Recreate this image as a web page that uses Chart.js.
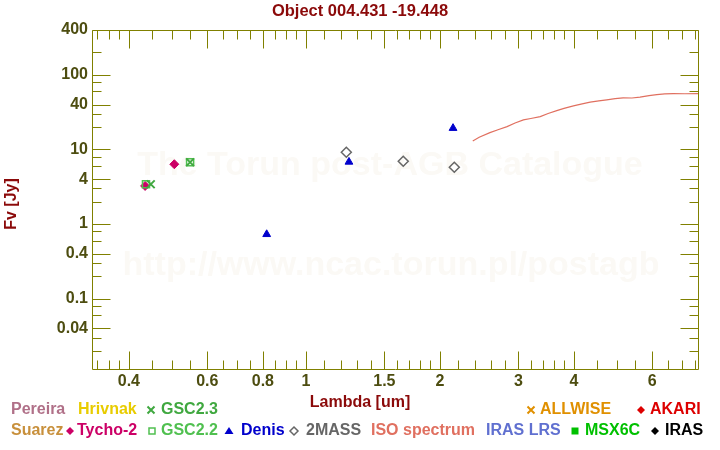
<!DOCTYPE html>
<html>
<head>
<meta charset="utf-8">
<script src="https://cdn.jsdelivr.net/npm/chart.js@4/dist/chart.umd.min.js"></script>
<style>
  body { margin: 0; background: #fff; }
  #wrap { width: 720px; height: 450px; }
</style>
</head>
<body>
<div id="wrap"><canvas id="sed" width="720" height="450"></canvas></div>
<script>
// datos (lambda en um, flujo en Jy)
const tychoLam = [0.435, 0.506];
const tychoFlux = [3.24, 6.33];
const gsc23Lam = [0.448, 0.549];
const gsc23Flux = [3.41, 6.73];
const gsc22Lam = [0.437, 0.549];
const gsc22Flux = [3.41, 6.73];
const denisLam = [0.816, 1.249, 2.14];
const denisFlux = [0.727, 6.8, 19.3];
const twomassLam = [1.232, 1.654, 2.154];
const twomassFlux = [9.17, 6.94, 5.77];
const isoLam = [2.37, 2.45, 2.59, 2.7, 2.83, 2.95, 3.08, 3.2, 3.36, 3.5, 3.66, 3.8, 3.99, 4.15, 4.35, 4.55, 4.74, 4.95, 5.16, 5.4, 5.63, 5.9, 6.14, 6.4, 6.69, 7.1, 7.61];
const isoFlux = [13.0, 14.6, 16.8, 18.4, 20.2, 22.6, 24.9, 26.0, 27.6, 30.3, 33.2, 35.6, 38.4, 40.6, 43.0, 44.8, 46.2, 48.0, 49.1, 49.0, 50.2, 52.8, 54.4, 55.6, 56.1, 55.8, 56.1];

// ejes
const xMajor = [0.4, 0.6, 0.8, 1, 1.5, 2, 3, 4, 6];
const xMinor = [0.34, 0.36, 0.38, 0.45, 0.5, 0.55, 0.65, 0.7, 0.75, 0.85, 0.9, 0.95, 1.1, 1.2, 1.3, 1.4, 1.6, 1.7, 1.8, 1.9, 2.2, 2.4, 2.6, 2.8, 3.2, 3.4, 3.6, 3.8, 4.5, 5, 5.5, 6.5, 7, 7.5];
const yMajor = [0.04, 0.1, 0.4, 1, 4, 10, 40, 100, 400];
const yMinor = [0.02, 0.03, 0.06, 0.08, 0.2, 0.3, 0.6, 0.8, 2, 3, 6, 8, 20, 30, 60, 80, 200];

const fam = '"Liberation Sans", Arial, sans-serif';
const olive = '#808000';
const darkRed = '#8b0a0a';

function pts(xs, ys) {
  return xs.map((v, i) => ({ x: v, y: ys[i] }));
}

// leyenda: texto, color, marcador, x marcador, x texto, fila
const legendItems = [
  ['Pereira', '#b07088', null, 0, 11, 0],
  ['Hrivnak', '#e8cc00', null, 0, 78, 0],
  ['GSC2.3', '#40a840', 'x', 151, 161, 0],
  ['ALLWISE', '#e09000', 'x', 531, 540, 0],
  ['AKARI', '#dd0000', 'dia', 641, 650, 0],
  ['Suarez', '#c8903c', null, 0, 11, 1],
  ['Tycho-2', '#cc0066', 'dia', 70, 77, 1],
  ['GSC2.2', '#50c050', 'sq', 152, 161, 1],
  ['Denis', '#0000cc', 'tri', 229, 241, 1],
  ['2MASS', '#666666', 'odia', 294, 306, 1],
  ['ISO spectrum', '#e07060', null, 0, 371, 1],
  ['IRAS LRS', '#6070d0', null, 0, 486, 1],
  ['MSX6C', '#00c000', 'fsq', 575, 585, 1],
  ['IRAS', '#000000', 'dia', 655, 665, 1]
];

function marker(ctx, kind, x, y, col) {
  ctx.save();
  ctx.strokeStyle = col; ctx.fillStyle = col;
  ctx.beginPath();
  if (kind === 'x') {
    ctx.lineWidth = 2;
    ctx.moveTo(x - 3.5, y - 3.5); ctx.lineTo(x + 3.5, y + 3.5);
    ctx.moveTo(x + 3.5, y - 3.5); ctx.lineTo(x - 3.5, y + 3.5);
    ctx.stroke();
  } else if (kind === 'dia' || kind === 'odia') {
    ctx.moveTo(x, y - 4); ctx.lineTo(x + 4, y); ctx.lineTo(x, y + 4); ctx.lineTo(x - 4, y); ctx.closePath();
    if (kind === 'dia') ctx.fill(); else { ctx.lineWidth = 1.5; ctx.stroke(); }
  } else if (kind === 'sq') {
    ctx.lineWidth = 1.5;
    ctx.rect(x - 3, y - 3, 6, 6); ctx.stroke();
  } else if (kind === 'fsq') {
    ctx.rect(x - 3.5, y - 3.5, 7, 7); ctx.fill();
  } else if (kind === 'tri') {
    ctx.moveTo(x, y - 4); ctx.lineTo(x + 4.5, y + 3); ctx.lineTo(x - 4.5, y + 3); ctx.closePath(); ctx.fill();
  }
  ctx.restore();
}

const marco = {
  id: 'marco',
  beforeDatasetsDraw(chart) {
    const ctx = chart.ctx;
    ctx.save();
    ctx.fillStyle = 'rgb(251,249,245)';
    ctx.font = 'bold 34px ' + fam;
    ctx.textAlign = 'center';
    ctx.textBaseline = 'alphabetic';
    ctx.fillText('The Torun post-AGB Catalogue', 390, 175);
    ctx.fillText('http://www.ncac.torun.pl/postagb', 391, 275);
    ctx.restore();
  },
  afterDraw(chart) {
    const ctx = chart.ctx;
    const a = chart.chartArea;
    const sx = chart.scales.x, sy = chart.scales.y;
    const L = Math.round(a.left) + 0.5, R = Math.round(a.right) - 0.5;
    const T = Math.round(a.top) + 0.5, B = Math.round(a.bottom) - 0.5;
    ctx.save();
    ctx.strokeStyle = olive;
    ctx.lineWidth = 1;
    ctx.beginPath();
    ctx.rect(L, T, R - L, B - T);
    const vt = (v, len) => {
      const p = Math.round(sx.getPixelForValue(v)) + 0.5;
      ctx.moveTo(p, T); ctx.lineTo(p, T + len);
      ctx.moveTo(p, B); ctx.lineTo(p, B - len);
    };
    const ht = (v, len) => {
      const p = Math.round(sy.getPixelForValue(v)) + 0.5;
      ctx.moveTo(L, p); ctx.lineTo(L + len, p);
      ctx.moveTo(R, p); ctx.lineTo(R - len, p);
    };
    xMajor.forEach(v => vt(v, 18));
    xMinor.forEach(v => vt(v, 9));
    yMajor.forEach(v => ht(v, 18));
    yMinor.forEach(v => ht(v, 9));
    ctx.stroke();

    // titulo
    ctx.fillStyle = darkRed;
    ctx.textAlign = 'center';
    ctx.textBaseline = 'middle';
    ctx.font = 'bold 16.5px ' + fam;
    ctx.fillText('Object 004.431 -19.448', 360, 11);

    // titulos de ejes
    ctx.font = 'bold 16px ' + fam;
    ctx.fillText('Lambda [um]', 360, 403);
    ctx.save();
    ctx.translate(12, 204);
    ctx.rotate(-Math.PI / 2);
    ctx.fillText('Fv [Jy]', 0, 0);
    ctx.restore();

    // leyenda
    ctx.textAlign = 'left';
    legendItems.forEach(it => {
      const yy = it[5] === 0 ? 410 : 431;
      if (it[2]) marker(ctx, it[2], it[3], yy, it[1]);
      ctx.fillStyle = it[1];
      ctx.fillText(it[0], it[4], yy);
    });
    ctx.restore();
  }
};

const tickFont = { family: fam, size: 16, weight: 'bold' };

new Chart(document.getElementById('sed'), {
  type: 'scatter',
  data: {
    datasets: [
      { label: 'GSC2.3', data: pts(gsc23Lam, gsc23Flux), pointStyle: 'crossRot', pointRadius: 5.5,
        pointBorderColor: '#40a840', pointBorderWidth: 2 },
      { label: 'GSC2.2', data: pts(gsc22Lam, gsc22Flux), pointStyle: 'rect', pointRadius: 5,
        pointBorderColor: '#50c050', pointBackgroundColor: 'rgba(0,0,0,0)', pointBorderWidth: 1.5 },
      { label: 'Tycho-2', data: pts(tychoLam, tychoFlux), pointStyle: 'rectRot', pointRadius: 4.5,
        pointBorderColor: '#cc0066', pointBackgroundColor: '#cc0066', pointBorderWidth: 1 },
      { label: 'Denis', data: pts(denisLam, denisFlux), pointStyle: 'triangle', pointRadius: 4.5,
        pointBorderColor: '#0000cc', pointBackgroundColor: '#0000cc', pointBorderWidth: 1 },
      { label: '2MASS', data: pts(twomassLam, twomassFlux), pointStyle: 'rectRot', pointRadius: 5,
        pointBorderColor: '#666666', pointBackgroundColor: 'rgba(0,0,0,0)', pointBorderWidth: 1.5 },
      { label: 'ISO spectrum', data: pts(isoLam, isoFlux), showLine: true, pointRadius: 0,
        borderColor: '#e07060', borderWidth: 1.2 }
    ]
  },
  options: {
    responsive: false,
    animation: false,
    layout: { padding: { left: 0, right: 21, top: 30, bottom: 0 } },
    plugins: {
      legend: { display: false },
      tooltip: { enabled: false },
      title: { display: false }
    },
    scales: {
      x: {
        type: 'logarithmic',
        bounds: 'data',
        min: 0.3305,
        max: 7.64,
        afterBuildTicks: s => { s.ticks = xMajor.map(v => ({ value: v })); },
        afterFit: s => { s.height = 80; },
        grid: { display: false, drawTicks: false, tickLength: 0 },
        border: { display: false },
        ticks: { autoSkip: false, maxRotation: 0, padding: 2, color: '#4d4d10', font: tickFont,
                 callback: v => String(v) }
      },
      y: {
        type: 'logarithmic',
        bounds: 'data',
        min: 0.011,
        max: 400,
        afterBuildTicks: s => { s.ticks = yMajor.map(v => ({ value: v })); },
        afterFit: s => { s.width = 92; },
        grid: { display: false, drawTicks: false, tickLength: 0 },
        border: { display: false },
        ticks: { autoSkip: false, padding: 4, color: '#4d4d10', font: tickFont,
                 callback: v => String(v) }
      }
    }
  },
  plugins: [marco]
});
</script>
</body>
</html>
